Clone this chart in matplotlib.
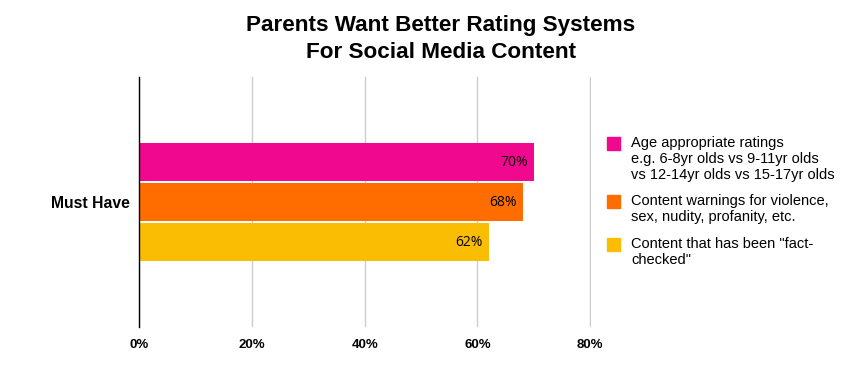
import matplotlib.pyplot as plt

# data
category = "Must Have"
series_labels = [
    "Age appropriate ratings\ne.g. 6-8yr olds vs 9-11yr olds\nvs 12-14yr olds vs 15-17yr olds",
    "Content warnings for violence,\nsex, nudity, profanity, etc.",
    "Content that has been \"fact-\nchecked\"",
]
values = [0.70, 0.68, 0.62]
colors = ["#F0088F", "#FF6D01", "#FBBC04"]
xticks = [0, 0.2, 0.4, 0.6, 0.8]
xtick_labels = ["0%", "20%", "40%", "60%", "80%"]

W, H = 859, 373
fig = plt.figure(figsize=(W / 100, H / 100), dpi=100)
ax = fig.add_axes([139.3 / W, 1 - 327 / H, (591 - 139.3) / W, (327 - 77) / H])

pos = list(range(len(values)))
ax.barh(pos, values, height=0.94, color=colors, zorder=3)
ax.set_ylim(4.125, -2.125)
ax.set_xlim(0, 0.8015)

# bar value labels inside the bar ends
for p, v in zip(pos, values):
    ax.text(v - 0.01, p, f"{v * 100:.0f}%", ha="right", va="center",
            fontsize=10, family="Open Sans", fontstyle="normal",
            fontweight="normal", color="#000000", zorder=4)

ax.set_xticks(xticks)
ax.set_xticklabels(xtick_labels, family="Liberation Sans", fontweight="bold", fontsize=9.5)
ax.tick_params(axis="x", length=0, pad=8.5)
ax.set_yticks([])
ax.grid(axis="x", color="#cccccc", linewidth=1, zorder=0)
for s in ["top", "right", "bottom"]:
    ax.spines[s].set_visible(False)
ax.spines["left"].set_color("#000000")
ax.spines["left"].set_linewidth(1)
ax.spines["left"].set_zorder(5)

# category label
fig.text(90 / W, 1 - 203 / H, category, ha="center", va="center",
         family="Liberation Sans", fontweight="bold", fontsize=11.3)

# title
fig.text(441 / W, 1 - 26 / H, "Parents Want Better Rating Systems", ha="center", va="center",
         family="Liberation Sans", fontweight="bold", fontsize=16.2)
fig.text(441 / W, 1 - 52 / H, "For Social Media Content", ha="center", va="center",
         family="Liberation Sans", fontweight="bold", fontsize=16.2)

# legend drawn by hand
sq_top = [137, 195, 238]
for lab, c, t in zip(series_labels, colors, sq_top):
    fig.patches.append(plt.Rectangle((607 / W, 1 - (t + 13) / H), 13 / W, 13 / H,
                                     transform=fig.transFigure, color=c, figure=fig))
    fig.text(631 / W, 1 - (t - 1) / H, lab, ha="left", va="top",
             family="Liberation Sans", fontsize=10.5, linespacing=1.17)

fig.savefig("out.png", dpi=100, facecolor="white")
